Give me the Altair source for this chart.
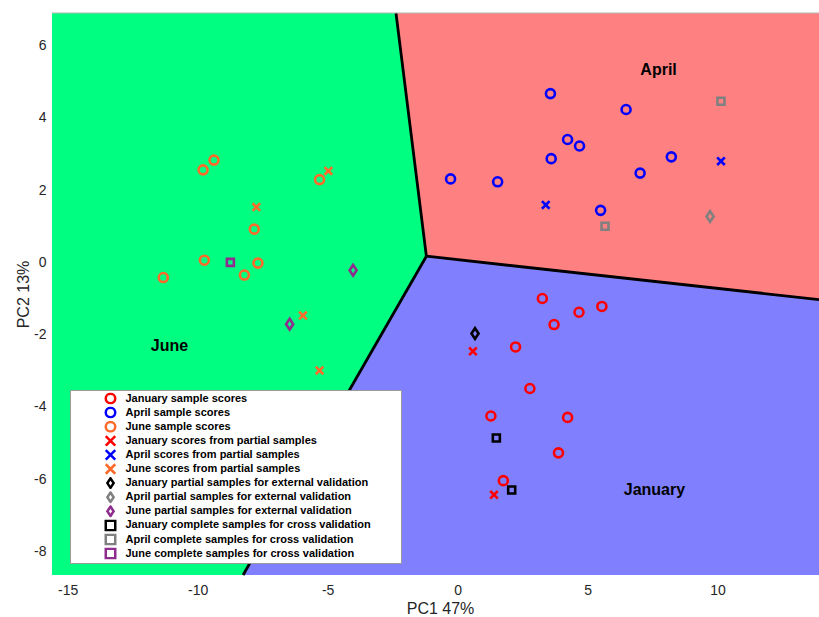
import altair as alt
import pandas as pd

# ---- sample scores (PC1, PC2) ----
jan_scores_x = [3.26, 5.55, 4.67, 3.71, 2.23, 2.78, 1.28, 4.23, 3.88, 1.76]
jan_scores_y = [-1.00, -1.22, -1.38, -1.72, -2.34, -3.49, -4.25, -4.29, -5.27, -6.04]
apr_scores_x = [3.57, 6.48, 4.23, 4.69, 3.60, 8.22, 7.02, -0.27, 1.54, 5.50]
apr_scores_y = [4.67, 4.23, 3.40, 3.22, 2.87, 2.92, 2.47, 2.31, 2.23, 1.44]
jun_scores_x = [-9.79, -9.37, -5.31, -7.82, -9.74, -7.68, -8.20, -11.32]
jun_scores_y = [2.56, 2.83, 2.29, 0.92, 0.06, -0.02, -0.35, -0.42]

# ---- scores from partial samples ----
jan_partial_x = [0.59, 1.40]
jan_partial_y = [-2.46, -6.43]
apr_partial_x = [10.13, 3.39]
apr_partial_y = [2.80, 1.59]
jun_partial_x = [-4.97, -7.74, -5.95, -5.31]
jun_partial_y = [2.53, 1.53, -1.47, -2.99]

# ---- partial samples for external validation ----
jan_ext_x = [0.67]
jan_ext_y = [-1.97]
apr_ext_x = [9.71]
apr_ext_y = [1.27]
jun_ext_x = [-4.02, -6.46]
jun_ext_y = [-0.22, -1.71]

# ---- complete samples for cross validation ----
jan_cv_x = [1.49, 2.08]
jan_cv_y = [-4.86, -6.30]
apr_cv_x = [10.13, 5.67]
apr_cv_y = [4.46, 1.00]
jun_cv_x = [-8.74]
jun_cv_y = [0.00]

# ---- axis limits and ticks ----
X_MIN, X_MAX = -15.6, 13.9
Y_MIN, Y_MAX = -8.65, 6.9
x_ticks = [-15, -10, -5, 0, 5, 10]
y_ticks = [-8, -6, -4, -2, 0, 2, 4, 6]

# ---- classification regions (vertices of the decision boundaries) ----
junction = (-1.2, 0.17)
top_cut_x = -2.37      # June/April boundary meets the top edge
right_cut_y = -1.03    # April/January boundary meets the right edge
bottom_cut_x = -8.25   # June/January boundary meets the bottom edge

region_names = ["June", "April", "January"]
region_colors = ["#00FF80", "#FF8080", "#8080FF"]
region_label_x = [-11.08, 7.73, 7.57]
region_label_y = [-2.30, 5.31, -6.29]

series = [
    "January sample scores",
    "April sample scores",
    "June sample scores",
    "January scores from partial samples",
    "April scores from partial samples",
    "June scores from partial samples",
    "January partial samples for external validation",
    "April partial samples for external validation",
    "June partial samples for external validation",
    "January complete samples for cross validation",
    "April complete samples for cross validation",
    "June complete samples for cross validation",
]
series_xy = [
    (jan_scores_x, jan_scores_y), (apr_scores_x, apr_scores_y), (jun_scores_x, jun_scores_y),
    (jan_partial_x, jan_partial_y), (apr_partial_x, apr_partial_y), (jun_partial_x, jun_partial_y),
    (jan_ext_x, jan_ext_y), (apr_ext_x, apr_ext_y), (jun_ext_x, jun_ext_y),
    (jan_cv_x, jan_cv_y), (apr_cv_x, apr_cv_y), (jun_cv_x, jun_cv_y),
]

RED, BLUE, ORANGE = "#FF0000", "#0000FF", "#FF6A2B"
BLACK, GRAY, PURPLE = "#000000", "#808080", "#8E2D8E"
series_colors = [RED, BLUE, ORANGE, RED, BLUE, ORANGE,
                 BLACK, GRAY, PURPLE, BLACK, GRAY, PURPLE]

X_PATH = "M-1,-1L1,1M1,-1L-1,1"
DIAMOND_PATH = "M0,-1L0.66,0L0,1L-0.66,0Z"
series_shapes = ["circle"] * 3 + [X_PATH] * 3 + [DIAMOND_PATH] * 3 + ["square"] * 3
# marker kind -> symbol area in the plot
marker_kinds = [("circle", 81), (X_PATH, 58), (DIAMOND_PATH, 115), ("square", 49)]

rows = []
for name, shape, (xs, ys) in zip(series, series_shapes, series_xy):
    for x, y in zip(xs, ys):
        rows.append({"series": name, "kind": shape, "pc1": x, "pc2": y})
points = pd.DataFrame(rows)

# region polygons as areas between a lower and an upper edge
def gj(x):
    # June/January boundary line through the junction
    return junction[1] + (x - junction[0]) * (Y_MIN - junction[1]) / (bottom_cut_x - junction[0])

regions = pd.DataFrame([
    {"region": "June", "x": X_MIN, "lo": Y_MIN, "hi": Y_MAX},
    {"region": "June", "x": bottom_cut_x, "lo": Y_MIN, "hi": Y_MAX},
    {"region": "June", "x": top_cut_x, "lo": gj(top_cut_x), "hi": Y_MAX},
    {"region": "June", "x": junction[0], "lo": junction[1], "hi": junction[1]},
    {"region": "April", "x": top_cut_x, "lo": Y_MAX, "hi": Y_MAX},
    {"region": "April", "x": junction[0], "lo": junction[1], "hi": Y_MAX},
    {"region": "April", "x": X_MAX, "lo": right_cut_y, "hi": Y_MAX},
    {"region": "January", "x": bottom_cut_x, "lo": Y_MIN, "hi": Y_MIN},
    {"region": "January", "x": junction[0], "lo": Y_MIN, "hi": junction[1]},
    {"region": "January", "x": X_MAX, "lo": Y_MIN, "hi": right_cut_y},
])

boundaries = pd.DataFrame([
    {"x": junction[0], "y": junction[1], "x2": top_cut_x, "y2": Y_MAX},
    {"x": junction[0], "y": junction[1], "x2": X_MAX, "y2": right_cut_y},
    {"x": junction[0], "y": junction[1], "x2": bottom_cut_x, "y2": Y_MIN},
])

frame_top = pd.DataFrame([{"x": X_MIN, "x2": X_MAX, "y": Y_MAX}])

labels = pd.DataFrame({"name": region_names, "x": region_label_x, "y": region_label_y})

FONT = "Liberation Sans"
xscale = alt.Scale(domain=[X_MIN, X_MAX], nice=False, zero=False)
yscale = alt.Scale(domain=[Y_MIN, Y_MAX], nice=False, zero=False)

# plain hyphen-minus in tick labels
plain_label = "'' + datum.value"

x_axis = alt.Axis(title="PC1 47%", values=x_ticks, grid=False, domain=False, ticks=False,
                  labelExpr=plain_label, labelPadding=8,
                  titleX=388, titleY=38, titleBaseline="alphabetic")
y_axis = alt.Axis(title="PC2 13%", values=y_ticks, grid=False, domain=False, ticks=False,
                  labelExpr=plain_label, labelPadding=6,
                  titleX=-24, titleY=281, titleBaseline="alphabetic")

area = alt.Chart(regions).mark_area(strokeWidth=0, opacity=1).encode(
    x=alt.X("x:Q", scale=xscale, axis=x_axis),
    y=alt.Y("lo:Q", scale=yscale, axis=y_axis),
    y2="hi:Q",
    fill=alt.Fill("region:N", scale=alt.Scale(domain=region_names, range=region_colors), legend=None),
)

lines = alt.Chart(boundaries).mark_rule(color="black", strokeWidth=2.8).encode(
    x="x:Q", y="y:Q", x2="x2:Q", y2="y2:Q"
)

top_edge = alt.Chart(frame_top).mark_rule(color="#b4b4b4", strokeWidth=1).encode(
    x="x:Q", x2="x2:Q", y="y:Q"
)

region_text = alt.Chart(labels).mark_text(
    font=FONT, fontSize=16, fontWeight="bold", color="black", align="center", baseline="middle"
).encode(x="x:Q", y="y:Q", text="name:N")

# legend box: blank title on the right widens the frame past the longest label
legend = alt.Legend(
    title=" ", titleOrient="right", titlePadding=28,
    orient="none", legendX=18, legendY=377,
    fillColor="white", strokeColor="#9a9a9a", padding=2.5,
    symbolOffset=32, labelOffset=9, rowPadding=2.1, clipHeight=12,
    symbolSize=90, symbolStrokeWidth=2.5, symbolFillColor="transparent",
    labelFont=FONT, labelFontWeight="bold", labelFontSize=11, labelColor="black",
    labelLimit=400,
)

color_enc = alt.Color("series:N", scale=alt.Scale(domain=series, range=series_colors), legend=legend)
shape_enc = alt.Shape("series:N", scale=alt.Scale(domain=series, range=series_shapes), legend=legend)

point_layers = []
for kind, size in marker_kinds:
    sub = points[points["kind"] == kind].drop(columns="kind")
    point_layers.append(
        alt.Chart(sub).mark_point(filled=False, strokeWidth=2.6, opacity=1, size=size).encode(
            x="pc1:Q", y="pc2:Q", color=color_enc, shape=shape_enc
        )
    )

chart = alt.layer(area, lines, top_edge, region_text, *point_layers).properties(
    width=767, height=562,
    autosize=alt.AutoSizeParams(type="none"),
    padding={"left": 52, "top": 13, "right": 0, "bottom": 42},
).configure_view(stroke=None).configure_axis(
    labelFont=FONT, labelFontSize=14, labelColor="#262626",
    titleFont=FONT, titleFontSize=16, titleFontWeight="normal", titleColor="#262626",
)

chart.save("out.html", embed_options={"renderer": "svg", "actions": False})
